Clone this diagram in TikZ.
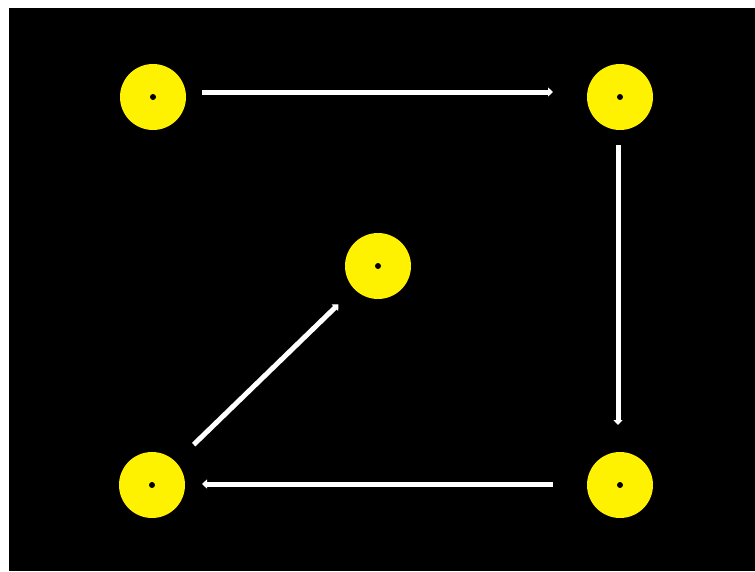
\documentclass[tikz,border=0pt]{standalone}
\usetikzlibrary{arrows.meta}
\begin{document}
\begin{tikzpicture}[x=1pt,y=-1pt,
  ball/.style={circle,fill=yellow,minimum size=66pt,inner sep=0pt,outer sep=0pt,draw=none},
  hole/.style={circle,fill=black,minimum size=6pt,inner sep=0pt},
  link/.style={draw=white,line width=5pt,-{Triangle[width=9pt,length=5pt]}}]
\useasboundingbox (0,0) rectangle (755,571);
\fill[white] (0,0) rectangle (755,571);
\fill[black] (9,8) rectangle (755,571);
\node[ball] (A) at (153,97) {};
\node[ball] (B) at (620,97) {};
\node[ball] (M) at (378,266) {};
\node[ball] (C) at (152,485) {};
\node[ball] (D) at (620,485) {};
\foreach \n in {A,B,M,C,D} \node[hole] at (\n) {};
\draw[link,shorten <=16pt,shorten >=34pt] ([yshift=5pt]A.east) -- ([yshift=5pt]B.west);
\draw[link,shorten <=15pt,shorten >=27pt] ([xshift=-2pt]B.south) -- ([xshift=-2pt]D.north);
\draw[link,shorten <=34pt,shorten >=17pt] ([yshift=1pt]D.west) -- ([yshift=1pt]C.east);
\draw[link,shorten <=25pt,shorten >=22pt] (C) -- (M);
\end{tikzpicture}
\end{document}
